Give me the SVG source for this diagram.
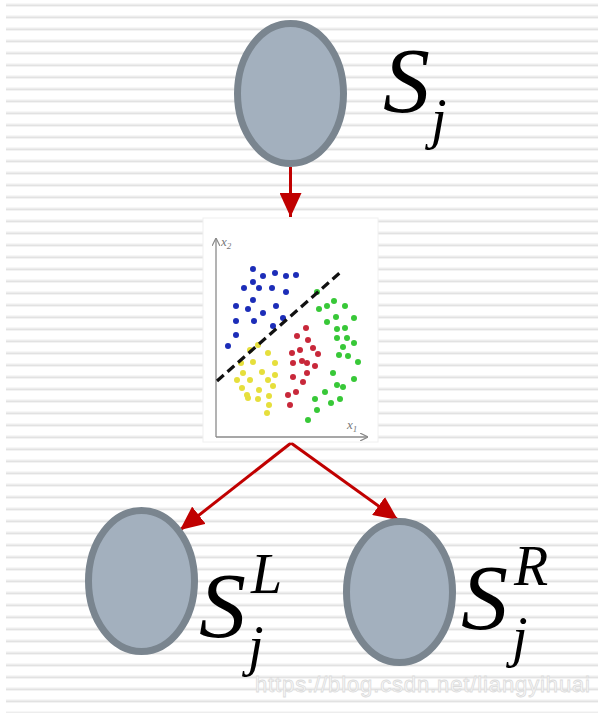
<svg xmlns="http://www.w3.org/2000/svg" width="598" height="713" viewBox="0 0 598 713">
<defs>
<style>
.node{fill:#a3b0be;stroke:#7a858f;stroke-width:7}
.lbl{font-family:"Liberation Serif","Times New Roman",serif;font-style:italic;fill:#000}
.big{font-size:94px}
.sub{font-size:56px}
.conn{stroke:#c00000;stroke-width:3;fill:none}
.ax{stroke:#8a8a8a;stroke-width:1.3;fill:none}
.axl{font-family:"Liberation Serif",serif;font-style:italic;font-size:13px;fill:#777}
.b{fill:#1c2db8}
.g{fill:#38c838}
.r{fill:#c8283a}
.y{fill:#e6df3c}
.wm{font-family:"Liberation Sans",Arial,sans-serif;font-size:22px;fill:#f8f8f8;stroke:#dcdcdc;stroke-width:0.8}
</style>
<pattern id="stripes" x="0" y="0" width="598" height="12" patternUnits="userSpaceOnUse">
<rect x="0" y="3.5" width="598" height="1" fill="#f0f0f0"/>
<rect x="0" y="4.5" width="598" height="1.5" fill="#e2e2e2"/>
<rect x="0" y="6" width="598" height="0.8" fill="#f0f0f0"/>
</pattern>
<marker id="ah" viewBox="0 0 24 22" refX="24" refY="11" markerWidth="24" markerHeight="22" markerUnits="userSpaceOnUse" orient="auto">
<path d="M0,0 L24,11 L0,22 z" fill="#c00000"/>
</marker>
<marker id="gah" viewBox="0 0 8 8" refX="8" refY="4" markerWidth="8" markerHeight="8" markerUnits="userSpaceOnUse" orient="auto">
<path d="M0,0 L8,4 L0,8" fill="none" stroke="#8a8a8a" stroke-width="1.2"/>
</marker>
</defs>
<rect width="598" height="713" fill="#ffffff"/>
<rect x="6" y="0" width="592" height="713" fill="url(#stripes)"/>

<g id="connectors">
<line class="conn" x1="290.5" y1="167" x2="290.5" y2="217" marker-end="url(#ah)"/>
<line class="conn" x1="291" y1="443" x2="180" y2="530" marker-end="url(#ah)"/>
<line class="conn" x1="291" y1="443" x2="398" y2="520" marker-end="url(#ah)"/>
</g>

<g id="node-sj">
<ellipse class="node" cx="290.5" cy="93.5" rx="53" ry="70"/>
<text class="lbl big" x="383" y="112">S</text>
<text class="lbl sub" x="431" y="138">j</text>
</g>

<g id="scatter-plot">
<rect x="203" y="218" width="175" height="224" fill="#ffffff" stroke="#f0f0f0" stroke-width="1"/>
<line class="ax" x1="216" y1="437" x2="216" y2="238" marker-end="url(#gah)"/>
<line class="ax" x1="216" y1="437" x2="368" y2="437" marker-end="url(#gah)"/>
<text class="axl" x="221" y="246">x<tspan font-size="9" dy="3">2</tspan></text>
<text class="axl" x="347" y="429">x<tspan font-size="9" dy="3">1</tspan></text>
<g>
<circle class="b" cx="253" cy="269" r="3"/><circle class="b" cx="263" cy="276" r="3"/><circle class="b" cx="275" cy="273" r="3"/><circle class="b" cx="286" cy="276" r="3"/><circle class="b" cx="296" cy="275" r="3"/><circle class="b" cx="253" cy="282" r="3"/><circle class="b" cx="244" cy="288" r="3"/><circle class="b" cx="259" cy="288" r="3"/><circle class="b" cx="272" cy="288" r="3"/><circle class="b" cx="286" cy="292" r="3"/><circle class="b" cx="253" cy="300" r="3"/><circle class="b" cx="236" cy="306" r="3"/><circle class="b" cx="248" cy="309" r="3"/><circle class="b" cx="276" cy="306" r="3"/><circle class="b" cx="263" cy="313" r="3"/><circle class="b" cx="236" cy="321" r="3"/><circle class="b" cx="254" cy="321" r="3"/><circle class="b" cx="283" cy="318" r="3"/><circle class="b" cx="273" cy="326" r="3"/><circle class="b" cx="236" cy="335" r="3"/><circle class="b" cx="228" cy="346" r="3"/>
</g>
<g>
<circle class="g" cx="317" cy="292" r="3"/><circle class="g" cx="319" cy="309" r="3"/><circle class="g" cx="327" cy="306" r="3"/><circle class="g" cx="334" cy="301" r="3"/><circle class="g" cx="345" cy="306" r="3"/><circle class="g" cx="327" cy="322" r="3"/><circle class="g" cx="336" cy="317" r="3"/><circle class="g" cx="354" cy="318" r="3"/><circle class="g" cx="337" cy="329" r="3"/><circle class="g" cx="345" cy="328" r="3"/><circle class="g" cx="337" cy="338" r="3"/><circle class="g" cx="347" cy="338" r="3"/><circle class="g" cx="354" cy="343" r="3"/><circle class="g" cx="343" cy="347" r="3"/><circle class="g" cx="339" cy="355" r="3"/><circle class="g" cx="348" cy="356" r="3"/><circle class="g" cx="358" cy="362" r="3"/><circle class="g" cx="333" cy="373" r="3"/><circle class="g" cx="354" cy="379" r="3"/><circle class="g" cx="337" cy="385" r="3"/><circle class="g" cx="343" cy="387" r="3"/><circle class="g" cx="325" cy="392" r="3"/><circle class="g" cx="315" cy="399" r="3"/><circle class="g" cx="331" cy="403" r="3"/><circle class="g" cx="340" cy="399" r="3"/><circle class="g" cx="317" cy="410" r="3"/><circle class="g" cx="308" cy="420" r="3"/>
</g>
<g>
<circle class="r" cx="306" cy="328" r="3"/><circle class="r" cx="297" cy="336" r="3"/><circle class="r" cx="308" cy="340" r="3"/><circle class="r" cx="313" cy="348" r="3"/><circle class="r" cx="300" cy="350" r="3"/><circle class="r" cx="292" cy="353" r="3"/><circle class="r" cx="318" cy="354" r="3"/><circle class="r" cx="293" cy="363" r="3"/><circle class="r" cx="302" cy="361" r="3"/><circle class="r" cx="307" cy="363" r="3"/><circle class="r" cx="315" cy="366" r="3"/><circle class="r" cx="307" cy="373" r="3"/><circle class="r" cx="293" cy="377" r="3"/><circle class="r" cx="303" cy="382" r="3"/><circle class="r" cx="296" cy="392" r="3"/><circle class="r" cx="288" cy="395" r="3"/><circle class="r" cx="290" cy="405" r="3"/>
</g>
<g>
<circle class="y" cx="250" cy="350" r="3"/><circle class="y" cx="258" cy="345" r="3"/><circle class="y" cx="268" cy="353" r="3"/><circle class="y" cx="241" cy="363" r="3"/><circle class="y" cx="253" cy="362" r="3"/><circle class="y" cx="275" cy="363" r="3"/><circle class="y" cx="237" cy="380" r="3"/><circle class="y" cx="243" cy="373" r="3"/><circle class="y" cx="262" cy="372" r="3"/><circle class="y" cx="275" cy="375" r="3"/><circle class="y" cx="250" cy="380" r="3"/><circle class="y" cx="268" cy="380" r="3"/><circle class="y" cx="242" cy="388" r="3"/><circle class="y" cx="259" cy="390" r="3"/><circle class="y" cx="273" cy="386" r="3"/><circle class="y" cx="248" cy="398" r="3"/><circle class="y" cx="258" cy="399" r="3"/><circle class="y" cx="269" cy="396" r="3"/><circle class="y" cx="269" cy="405" r="3"/><circle class="y" cx="267" cy="413" r="3"/><circle class="y" cx="247" cy="395" r="3"/>
</g>
<line x1="217" y1="381" x2="343" y2="270" stroke="#111" stroke-width="3.2" stroke-dasharray="9,5"/>
</g>

<g id="node-sjl">
<ellipse class="node" cx="141.5" cy="581" rx="53" ry="70.5"/>
<text class="lbl big" x="199" y="637">S</text>
<text class="lbl sub" x="251" y="593">L</text>
<text class="lbl sub" x="248" y="665">j</text>
</g>

<g id="node-sjr">
<ellipse class="node" cx="399.5" cy="592" rx="53" ry="70.5"/>
<text class="lbl big" x="461" y="629">S</text>
<text class="lbl sub" x="514" y="585">R</text>
<text class="lbl sub" x="512" y="656">j</text>
</g>

<text class="wm" x="255" y="692" textLength="335">https://blog.csdn.net/liangyihuai</text>
</svg>
